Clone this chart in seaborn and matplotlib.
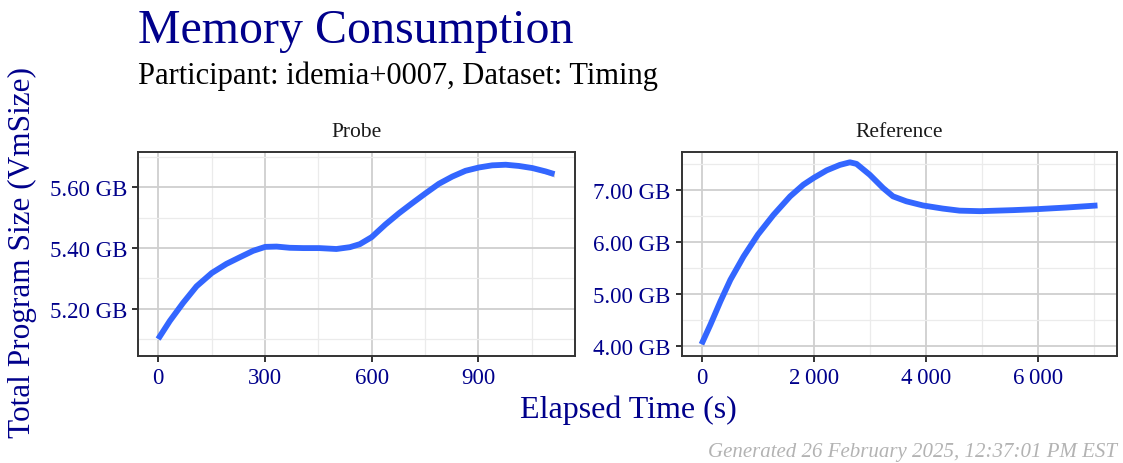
import numpy as np
import pandas as pd
import matplotlib
matplotlib.use("Agg")
import matplotlib.pyplot as plt
import seaborn as sns
from matplotlib.ticker import FuncFormatter, MultipleLocator

sns.set_theme(style="white")
plt.rcParams['font.family'] = ['Liberation Serif', 'DejaVu Serif']

# Probe: elapsed seconds vs smoothed VmSize (GB)
probe_t = [0, 33, 70, 108, 151, 192, 230, 267, 301, 333, 370, 408, 453, 501, 539, 567, 600,
           639, 677, 714, 752, 789, 827, 864, 902, 939, 977, 1014, 1052, 1089, 1114]
probe_v = [5.100, 5.160, 5.219, 5.274, 5.318, 5.348, 5.370, 5.391, 5.404, 5.405, 5.401, 5.400,
           5.400, 5.397, 5.403, 5.413, 5.436, 5.478, 5.515, 5.548, 5.581, 5.612, 5.636, 5.655, 5.666,
           5.673, 5.675, 5.671, 5.664, 5.653, 5.644]
probe_se = [0.007, 0.005, 0.004, 0.003, 0.003, 0.002, 0.002, 0.002, 0.002, 0.002, 0.002, 0.002,
            0.002, 0.002, 0.002, 0.002, 0.002, 0.002, 0.002, 0.002, 0.002, 0.002, 0.002, 0.002, 0.003,
            0.003, 0.004, 0.005, 0.006, 0.008, 0.010]

# Reference
ref_t = [0, 160, 337, 515, 751, 1006, 1284, 1580, 1817, 2000, 2231, 2467, 2645, 2763, 3000,
         3237, 3414, 3651, 3947, 4300, 4600, 4964, 5557, 6000, 6500, 7059]
ref_v = [4.04, 4.42, 4.865, 5.28, 5.73, 6.15, 6.53, 6.885, 7.11, 7.24, 7.385, 7.49, 7.54, 7.51,
         7.30, 7.045, 6.885, 6.79, 6.71, 6.65, 6.61, 6.60, 6.62, 6.64, 6.67, 6.71]

panels = ["Probe", "Reference"]
navy = "#00008B"
line_col = "#3366FF"

fig = plt.figure(figsize=(11.23, 4.64), dpi=100)
W, H = 1123, 464


def box(l, t, r, b):
    return [l / W, 1 - b / H, (r - l) / W, (b - t) / H]


ax1 = fig.add_axes(box(138.3, 152.7, 575, 356.7))
ax2 = fig.add_axes(box(681.7, 152.7, 1117.3, 356.7))

df1 = pd.DataFrame({"t": probe_t, "v": probe_v})
df2 = pd.DataFrame({"t": ref_t, "v": ref_v})

lo = np.array(probe_v) - np.array(probe_se)
hi = np.array(probe_v) + np.array(probe_se)
ax1.fill_between(probe_t, lo, hi, color="#999999", alpha=0.4, lw=0, zorder=2)
sns.lineplot(data=df1, x="t", y="v", ax=ax1, color=line_col, lw=4.2, zorder=3)
sns.lineplot(data=df2, x="t", y="v", ax=ax2, color=line_col, lw=4.2, zorder=3)
for ax in (ax1, ax2):
    for ln in ax.get_lines():
        ln.set_solid_capstyle("butt")
        ln.set_solid_joinstyle("round")

ax1.set_xlim(-55.8, 1171.8)
ax1.set_ylim(5.045, 5.718)
ax2.set_xlim(-353, 7412)
ax2.set_ylim(3.82, 7.744)

ax1.xaxis.set_major_locator(MultipleLocator(300))
ax1.xaxis.set_minor_locator(MultipleLocator(150))
ax1.yaxis.set_major_locator(MultipleLocator(0.2))
ax1.yaxis.set_minor_locator(MultipleLocator(0.1))
ax2.xaxis.set_major_locator(MultipleLocator(2000))
ax2.xaxis.set_minor_locator(MultipleLocator(1000))
ax2.yaxis.set_major_locator(MultipleLocator(1.0))
ax2.yaxis.set_minor_locator(MultipleLocator(0.5))

gb = FuncFormatter(lambda v, p: f"{v:.2f} GB")
thou = FuncFormatter(lambda v, p: f"{int(round(v)):,}".replace(",", "\u2009"))

for ax, name in zip([ax1, ax2], panels):
    ax.yaxis.set_major_formatter(gb)
    ax.xaxis.set_major_formatter(thou)
    ax.grid(which="major", color="#cfcfcf", lw=1.3, zorder=0)
    ax.grid(which="minor", color="#ebebeb", lw=0.9, zorder=0)
    ax.set_axisbelow(True)
    for s in ax.spines.values():
        s.set_color("#333333")
        s.set_linewidth(1.4)
    ax.tick_params(which="major", direction="out", length=4, width=1.4, color="#333333",
                   labelsize=16.5, labelcolor=navy, pad=4, bottom=True, left=True)
    ax.tick_params(which="minor", length=0)
    ax.set_xlabel("")
    ax.set_ylabel("")
    ax.set_title(name, fontsize=15.5, color="#1a1a1a", pad=11)

fig.text(138 / W, 1 - 43 / H, "Memory Consumption", fontsize=34.5, color=navy, ha="left", va="baseline")
fig.text(138 / W, 1 - 84 / H, "Participant: idemia+0007, Dataset: Timing", fontsize=22, color="black",
         ha="left", va="baseline")
fig.text(628 / W, 1 - 410 / H, "Elapsed Time (s)", fontsize=23, color=navy, ha="center", va="center")
fig.text(22 / W, 1 - 253 / H, "Total Program Size (VmSize)", fontsize=22.5, color=navy, ha="center",
         va="center", rotation=90)
fig.text(1117 / W, 1 - 457 / H, "Generated 26 February 2025, 12:37:01 PM EST", fontsize=15,
         color="#b3b3b3", style="italic", ha="right", va="baseline")

fig.savefig("out.png", dpi=100)
